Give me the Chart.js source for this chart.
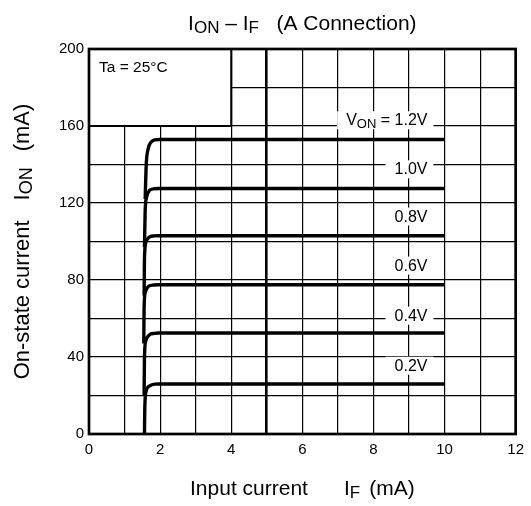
<!DOCTYPE html>
<html>
<head>
<meta charset="utf-8">
<script src="https://cdn.jsdelivr.net/npm/chart.js@4"></script>
<style>
  html, body { margin: 0; padding: 0; background: #fff; }
  canvas { display: block; }
</style>
</head>
<body>
<canvas id="grafic" width="531" height="506"></canvas>
<script>
const FONT = '"Liberation Sans", Arial, sans-serif';

// Corbes ION - IF, una per cada VON (valors llegits del gràfic)
const vonLabels = ['0.2V', '0.4V', '0.6V', '0.8V', '1.0V', '1.2V'];

const if02  = [1.56, 1.57, 1.61, 1.71, 1.85, 1.95, 10];
const ion02 = [0, 14, 22.5, 25, 25.9, 26, 26];

const if04  = [1.55, 1.56, 1.60, 1.70, 1.84, 1.95, 10];
const ion04 = [20, 40, 48.5, 51.5, 52.3, 52.5, 52.5];

const if06  = [1.54, 1.55, 1.59, 1.68, 1.82, 1.95, 10];
const ion06 = [47, 66, 74, 76.8, 77.4, 77.5, 77.5];

const if08  = [1.55, 1.56, 1.60, 1.69, 1.83, 1.95, 10];
const ion08 = [72, 91, 99.5, 102.2, 102.9, 103, 103];

const if10  = [1.56, 1.58, 1.62, 1.70, 1.83, 1.95, 10];
const ion10 = [97, 116, 123, 126.5, 127.4, 127.5, 127.5];

const if12  = [1.58, 1.61, 1.67, 1.74, 1.85, 1.98, 10];
const ion12 = [122, 140, 148.5, 151.5, 152.8, 153, 153];

// Posició vertical (mA) de l'etiqueta de cada corba
const labelIon = [36, 62, 88, 113.5, 138, 163.5];
const labelIf = 9.52;

// Ticks
const xTicks = [0, 2, 4, 6, 8, 10, 12];
const yTicks = [0, 40, 80, 120, 160, 200];

// Requadre Ta
const taBox = { ifMax: 4, ionMin: 160 };

const curves = [
    [if02, ion02], [if04, ion04], [if06, ion06],
    [if08, ion08], [if10, ion10], [if12, ion12]
];

// Dibuixa text amb subíndexs: parts = [{t, s, dy}] o {gap}
function richWidth(ctx, parts) {
    let w = 0;
    for (const p of parts) {
        if (p.gap) { w += p.gap; continue; }
        ctx.font = p.s + 'px ' + FONT;
        w += ctx.measureText(p.t).width;
    }
    return w;
}

function drawRich(ctx, parts, x, y, align) {
    const w = richWidth(ctx, parts);
    let cx = align === 'right' ? x - w : (align === 'left' ? x : x - w / 2);
    ctx.textAlign = 'left';
    ctx.textBaseline = 'alphabetic';
    for (const p of parts) {
        if (p.gap) { cx += p.gap; continue; }
        ctx.font = p.s + 'px ' + FONT;
        ctx.fillText(p.t, cx, y + (p.dy || 0));
        cx += ctx.measureText(p.t).width;
    }
    return { left: cx - w, right: cx, width: w };
}

const titleParts = [
    { t: 'I', s: 21 }, { t: 'ON', s: 17, dy: 3 },
    { t: ' \u2013 I', s: 21 }, { t: 'F', s: 17, dy: 3 },
    { t: '   (A Connection)', s: 21 }
];
const xTitleParts = [
    { t: 'Input current', s: 21 }, { gap: 36 },
    { t: 'I', s: 21 }, { t: 'F', s: 17, dy: 3 }, { gap: 9 },
    { t: '(mA)', s: 21 }
];
const yTitleParts = [
    { t: 'On-state current', s: 22 }, { gap: 20 },
    { t: 'I', s: 22 }, { t: 'ON', s: 18, dy: 3 }, { gap: 16 },
    { t: '(mA)', s: 22 }
];

const marcPlugin = {
    id: 'marc',
    beforeDatasetsDraw(chart) {
        const { ctx, chartArea: a, scales: { x, y } } = chart;
        ctx.save();
        // requadre Ta = 25°C
        const bx = x.getPixelForValue(taBox.ifMax);
        const by = y.getPixelForValue(taBox.ionMin);
        ctx.fillStyle = '#fff';
        ctx.fillRect(a.left, a.top, bx - a.left, by - a.top);
        ctx.strokeStyle = '#000';
        ctx.lineWidth = 2;
        ctx.strokeRect(a.left, a.top, bx - a.left, by - a.top);
        ctx.fillStyle = '#000';
        ctx.font = '15.5px ' + FONT;
        ctx.textAlign = 'left';
        ctx.textBaseline = 'alphabetic';
        ctx.fillText('Ta = 25\u00B0C', a.left + 10, a.top + 23);
        // marc exterior
        ctx.lineWidth = 2.7;
        ctx.strokeRect(a.left, a.top, a.right - a.left, a.bottom - a.top);
        ctx.restore();
    },
    afterDatasetsDraw(chart) {
        const { ctx, scales: { x, y } } = chart;
        ctx.save();
        const xr = x.getPixelForValue(labelIf);
        vonLabels.forEach((lab, i) => {
            const parts = i === vonLabels.length - 1
                ? [{ t: 'V', s: 16 }, { t: 'ON', s: 13, dy: 3 }, { t: ' = ' + lab, s: 16 }]
                : [{ t: lab, s: 16 }];
            const cy = y.getPixelForValue(labelIon[i]);
            const w = richWidth(ctx, parts);
            ctx.fillStyle = '#fff';
            ctx.fillRect(xr - w - 9, cy - 8, w + 15, 18);
            ctx.fillStyle = '#000';
            drawRich(ctx, parts, xr, cy + 6, 'right');
        });
        ctx.restore();
    },
    afterDraw(chart) {
        const { ctx, chartArea: a } = chart;
        const cx = (a.left + a.right) / 2;
        ctx.save();
        ctx.fillStyle = '#000';
        drawRich(ctx, titleParts, cx, 29.5, 'center');
        drawRich(ctx, xTitleParts, cx, 495, 'center');
        ctx.translate(28.5, (a.top + a.bottom) / 2);
        ctx.rotate(-Math.PI / 2);
        drawRich(ctx, yTitleParts, 0, 0, 'center');
        ctx.restore();
    }
};

new Chart(document.getElementById('grafic'), {
    type: 'line',
    data: {
        datasets: curves.map(([xs, ys], i) => ({
            label: vonLabels[i],
            data: xs.map((v, j) => ({ x: v, y: ys[j] })),
            borderColor: '#000',
            borderWidth: 3.4,
            pointRadius: 0,
            fill: false,
            cubicInterpolationMode: 'monotone'
        }))
    },
    options: {
        responsive: false,
        animation: false,
        layout: { padding: { top: 49, right: 12, left: 0, bottom: 0 } },
        plugins: { legend: { display: false }, tooltip: { enabled: false } },
        scales: {
            x: {
                type: 'linear', min: 0, max: 12,
                ticks: {
                    stepSize: 1, autoSkip: false, maxRotation: 0, padding: 7,
                    color: '#000', font: { family: FONT, size: 15 },
                    callback: v => xTicks.includes(v) ? String(v) : ''
                },
                grid: {
                    color: '#000', drawTicks: false,
                    lineWidth: c => (c.tick && c.tick.value === 5) ? 2.6 : 1.2
                },
                border: { display: false },
                afterFit: s => { s.height = 72; }
            },
            y: {
                type: 'linear', min: 0, max: 200,
                ticks: {
                    stepSize: 20, autoSkip: false, padding: 5,
                    color: '#000', font: { family: FONT, size: 15 },
                    callback: v => yTicks.includes(v) ? String(v) : ''
                },
                grid: { color: '#000', drawTicks: false, lineWidth: 1.2 },
                border: { display: false },
                afterFit: s => { s.width = 89; }
            }
        }
    },
    plugins: [marcPlugin]
});
</script>
</body>
</html>
